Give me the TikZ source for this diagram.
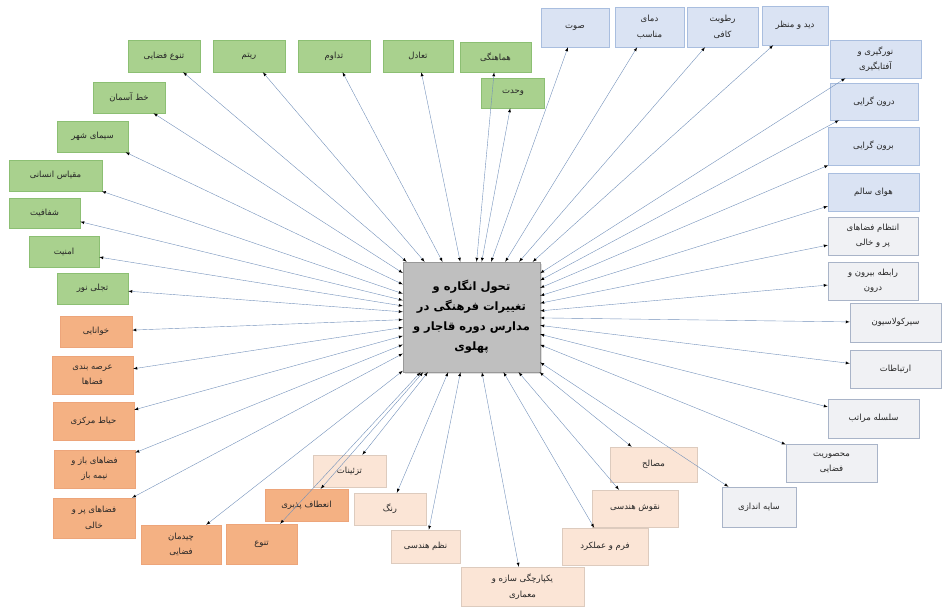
\documentclass[tikz,border=0pt]{standalone}
\usepackage{fontspec}
\newfontfamily\arabicfont[Script=Arabic]{DejaVu Sans}
\TeXXeTstate=1
\usetikzlibrary{arrows,shadows}

\newcommand{\fatxt}[1]{\beginR #1\endR}

\definecolor{greenfill}{HTML}{A9D18E}
\definecolor{greenline}{HTML}{8CBF73}
\definecolor{bluefill}{HTML}{DAE3F3}
\definecolor{blueline}{HTML}{A9BEDF}
\definecolor{greyfill}{HTML}{F0F1F4}
\definecolor{greyline}{HTML}{A9B4C8}
\definecolor{salmonfill}{HTML}{F4B183}
\definecolor{salmonline}{HTML}{EDA57A}
\definecolor{peachfill}{HTML}{FBE5D6}
\definecolor{peachline}{HTML}{DDCBBE}
\definecolor{corefill}{HTML}{BFBFBF}
\definecolor{linkline}{HTML}{7391BA}

\tikzset{
  sz/.style 2 args={minimum width=#1pt,minimum height=#2pt},
  box/.style={draw,line width=0.5pt,inner sep=1pt,align=center,text=black!85,
    font=\arabicfont\fontsize{8.5}{15.5}\selectfont},
  greenbox/.style={box,fill=greenfill,draw=greenline},
  bluebox/.style={box,fill=bluefill,draw=blueline},
  greybox/.style={box,fill=greyfill,draw=greyline},
  salmonbox/.style={box,fill=salmonfill,draw=salmonline},
  peachbox/.style={box,fill=peachfill,draw=peachline},
  corebox/.style={draw=corefill!80!black,fill=corefill,inner sep=2pt,align=center,
    drop shadow={opacity=0.25,shadow xshift=1.5pt,shadow yshift=-1.5pt},
    font=\arabicfont\bfseries\fontsize{11.5}{20}\selectfont},
  link/.style={<->,>=latex,draw=linkline,line width=0.4pt}
}

\begin{document}
\begin{tikzpicture}[x=1pt,y=-1pt]
  \useasboundingbox (0,0) rectangle (942,607);

  % centre
  \node[corebox,sz={137}{110}] (core) at (471.5,317)
    {\fatxt{تحول انگاره و}\\\fatxt{تغییرات فرهنگی در}\\\fatxt{مدارس دوره قاجار و}\\\fatxt{پهلوی}};

  % green
  \node[greenbox,sz={72}{32}] (tanavofaza) at (164,56) {\fatxt{تنوع فضایی}};
  \node[greenbox,sz={72}{32}] (ritm) at (249,56) {\fatxt{ریتم}};
  \node[greenbox,sz={72}{32}] (tadavom) at (334,56) {\fatxt{تداوم}};
  \node[greenbox,sz={70}{32}] (taadol) at (418,56) {\fatxt{تعادل}};
  \node[greenbox,sz={71}{30}] (hamahangi) at (495.5,57) {\fatxt{هماهنگی}};
  \node[greenbox,sz={63}{30}] (vahdat) at (513,93) {\fatxt{وحدت}};
  \node[greenbox,sz={72}{31}] (khataseman) at (129,97.5) {\fatxt{خط آسمان}};
  \node[greenbox,sz={71}{31}] (simashahr) at (92.5,136.5) {\fatxt{سیمای شهر}};
  \node[greenbox,sz={93}{31}] (meghyas) at (55.5,175.5) {\fatxt{مقیاس انسانی}};
  \node[greenbox,sz={71}{30}] (shafafiat) at (44.5,213) {\fatxt{شفافیت}};
  \node[greenbox,sz={70}{31}] (amniat) at (64,251.5) {\fatxt{امنیت}};
  \node[greenbox,sz={71}{31}] (tajalli) at (92.5,288.5) {\fatxt{تجلی نور}};

  % salmon
  \node[salmonbox,sz={72}{31}] (khanayi) at (96,331.5) {\fatxt{خوانایی}};
  \node[salmonbox,sz={81}{38}] (arsebandi) at (92.5,375) {\fatxt{عرصه بندی}\\\fatxt{فضاها}};
  \node[salmonbox,sz={81}{38}] (hayat) at (93.5,421) {\fatxt{حیاط مرکزی}};
  \node[salmonbox,sz={81}{38}] (baznime) at (94.5,469) {\fatxt{فضاهای باز و}\\\fatxt{نیمه باز}};
  \node[salmonbox,sz={82}{40}] (porkhali) at (94,518) {\fatxt{فضاهای پر و}\\\fatxt{خالی}};
  \node[salmonbox,sz={80}{39}] (chideman) at (181,544.5) {\fatxt{چیدمان}\\\fatxt{فضایی}};
  \node[salmonbox,sz={71}{40}] (tanavo) at (261.5,544) {\fatxt{تنوع}};
  \node[salmonbox,sz={83}{32}] (enetaf) at (306.5,505) {\fatxt{انعطاف پذیری}};

  % peach
  \node[peachbox,sz={73}{32}] (tazeinat) at (349.5,471) {\fatxt{تزئینات}};
  \node[peachbox,sz={72}{32}] (rang) at (390,509) {\fatxt{رنگ}};
  \node[peachbox,sz={69}{33}] (nazm) at (425.5,546.5) {\fatxt{نظم هندسی}};
  \node[peachbox,sz={123}{39}] (yekparchegi) at (522.5,586.5) {\fatxt{یکپارچگی سازه و}\\\fatxt{معماری}};
  \node[peachbox,sz={86}{37}] (form) at (605,546.5) {\fatxt{فرم و عملکرد}};
  \node[peachbox,sz={86}{37}] (noghoosh) at (635,508.5) {\fatxt{نقوش هندسی}};
  \node[peachbox,sz={87}{35}] (masaleh) at (653.5,464.5) {\fatxt{مصالح}};

  % grey
  \node[greybox,sz={74}{40}] (sayeh) at (759,507) {\fatxt{سایه اندازی}};
  \node[greybox,sz={91}{38}] (mahsooriat) at (831.5,463) {\fatxt{محصوریت}\\\fatxt{فضایی}};
  \node[greybox,sz={91}{39}] (selseleh) at (873.5,418.5) {\fatxt{سلسله مراتب}};
  \node[greybox,sz={91}{38}] (ertebatat) at (895.5,369) {\fatxt{ارتباطات}};
  \node[greybox,sz={91}{39}] (circulation) at (895.5,322.5) {\fatxt{سیرکولاسیون}};
  \node[greybox,sz={90}{38}] (birundarun) at (873,281) {\fatxt{رابطه بیرون و}\\\fatxt{درون}};
  \node[greybox,sz={90}{38}] (entezam) at (873,236) {\fatxt{انتظام فضاهای}\\\fatxt{پر و خالی}};

  % blue
  \node[bluebox,sz={91}{38}] (hava) at (873.5,192) {\fatxt{هوای سالم}};
  \node[bluebox,sz={91}{38}] (borungarayi) at (873.5,146) {\fatxt{برون گرایی}};
  \node[bluebox,sz={88}{37}] (darungarayi) at (874,101.5) {\fatxt{درون گرایی}};
  \node[bluebox,sz={91}{38}] (noorgiri) at (875.5,59) {\fatxt{نورگیری و}\\\fatxt{آفتابگیری}};
  \node[bluebox,sz={66}{39}] (manzar) at (795,25.5) {\fatxt{دید و منظر}};
  \node[bluebox,sz={71}{40}] (rotoobat) at (722.5,27) {\fatxt{رطوبت}\\\fatxt{کافی}};
  \node[bluebox,sz={69}{40}] (dama) at (649.5,27) {\fatxt{دمای}\\\fatxt{مناسب}};
  \node[bluebox,sz={68}{39}] (sot) at (575,27.5) {\fatxt{صوت}};

  % links
  \path[link] (core) edge (tanavofaza) edge (ritm) edge (tadavom) edge (taadol)
    edge (hamahangi) edge (vahdat) edge (khataseman) edge (simashahr)
    edge (meghyas) edge (shafafiat) edge (amniat) edge (tajalli);
  \path[link] (core) edge (khanayi) edge (arsebandi) edge (hayat) edge (baznime)
    edge (porkhali) edge (chideman) edge (tanavo) edge (enetaf);
  \path[link] (core) edge (tazeinat) edge (rang) edge (nazm) edge (yekparchegi)
    edge (form) edge (noghoosh) edge (masaleh);
  \path[link] (core) edge (sayeh) edge (mahsooriat) edge (selseleh) edge (ertebatat)
    edge (circulation) edge (birundarun) edge (entezam);
  \path[link] (core) edge (hava) edge (borungarayi) edge (darungarayi) edge (noorgiri)
    edge (manzar) edge (rotoobat) edge (dama) edge (sot);
\end{tikzpicture}
\end{document}
